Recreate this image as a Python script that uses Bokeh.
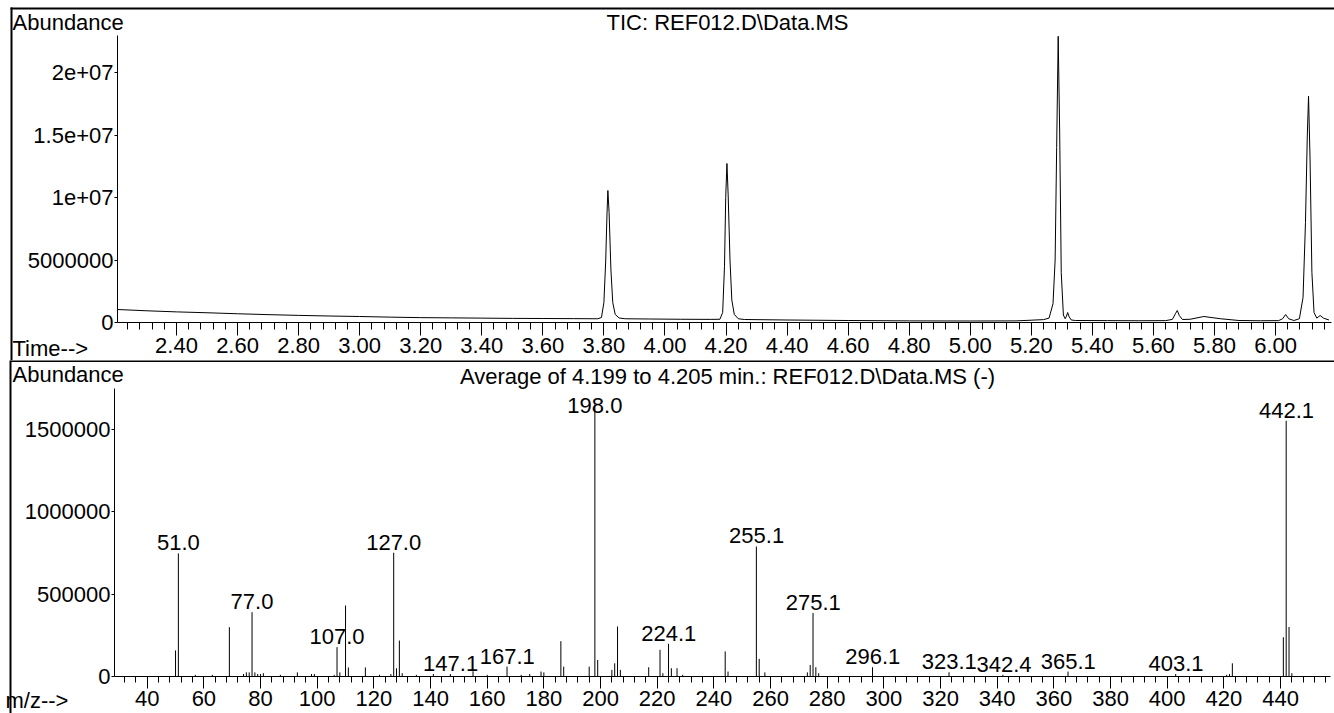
from bokeh.plotting import figure
from bokeh.models import (FixedTicker, Label, LabelSet, ColumnDataSource,
                          BoxAnnotation, Range1d)
from bokeh.core.properties import value
from bokeh.layouts import column
from bokeh.embed import file_html
from bokeh.resources import INLINE
import numpy as np

FONT = "Liberation Sans"
FS = "22px"

# ---------------- TIC chromatogram (time in min, abundance) ----------------
tic_time = [2.207, 2.30, 2.40, 2.50, 2.60, 2.70, 2.80, 2.90, 3.00, 3.10, 3.20,
            3.30, 3.40, 3.50, 3.60, 3.70, 3.78,
            3.792, 3.800, 3.806, 3.810, 3.813, 3.817, 3.823, 3.829, 3.837, 3.850, 3.870,
            3.95, 4.05, 4.15, 4.180,
            4.189, 4.195, 4.199, 4.203, 4.207, 4.213, 4.219, 4.227, 4.240, 4.26,
            4.40, 4.60, 4.80, 5.00, 5.15, 5.24,
            5.258, 5.271, 5.278, 5.283, 5.288, 5.293, 5.298, 5.305, 5.311, 5.315,
            5.319, 5.324, 5.331, 5.345,
            5.45, 5.55, 5.64, 5.662, 5.672, 5.678, 5.685, 5.695, 5.72, 5.765,
            5.82, 5.88, 5.95, 6.01, 6.023, 6.033, 6.043, 6.06,
            6.078, 6.090, 6.098, 6.104, 6.108, 6.113, 6.119, 6.126, 6.135,
            6.146, 6.157, 6.175]
tic_abund = [1.04e6, 9.4e5, 8.5e5, 7.8e5, 7.0e5, 6.3e5, 5.7e5, 5.2e5, 4.8e5, 4.3e5, 3.9e5,
             3.7e5, 3.5e5, 3.3e5, 3.2e5, 3.1e5, 3.0e5,
             4.0e5, 1.6e6, 5.0e6, 8.6e6, 1.056e7, 8.8e6, 4.2e6, 1.6e6, 6.5e5, 3.6e5, 3.0e5,
             2.8e5, 2.6e5, 2.5e5, 2.6e5,
             8.0e5, 4.5e6, 1.0e7, 1.272e7, 1.02e7, 5.0e6, 1.8e6, 6.5e5, 3.0e5, 2.4e5,
             2.0e5, 1.6e5, 1.3e5, 1.2e5, 1.3e5, 2.3e5,
             3.5e5, 1.5e6, 5.0e6, 1.4e7, 2.29e7, 1.5e7, 4.0e6, 6.0e5, 3.0e5, 5.0e5,
             8.0e5, 4.5e5, 2.0e5, 1.6e5,
             1.5e5, 1.4e5, 1.5e5, 2.5e5, 7.0e5, 9.6e5, 5.5e5, 2.4e5, 2.6e5, 4.8e5,
             3.0e5, 1.6e5, 1.4e5, 1.5e5, 3.0e5, 6.4e5, 3.0e5, 1.6e5,
             3.0e5, 2.0e6, 8.0e6, 1.5e7, 1.81e7, 1.3e7, 4.0e6, 8.0e5, 3.5e5,
             5.6e5, 3.5e5, 2.0e5]

tic_xticks = [2.40, 2.60, 2.80, 3.00, 3.20, 3.40, 3.60, 3.80, 4.00, 4.20,
              4.40, 4.60, 4.80, 5.00, 5.20, 5.40, 5.60, 5.80, 6.00]
tic_yticks = [0, 5000000, 10000000, 15000000, 20000000]
tic_ylabels = ["0", "5000000", "1e+07", "1.5e+07", "2e+07"]

# ---------------- Mass spectrum (m/z, abundance) ----------------
ms_mz = [50, 51, 57, 63, 69, 74, 75, 76, 77, 78, 79, 80, 81, 87, 93, 98, 99,
         106, 107, 108, 110, 111, 117, 122, 126, 127, 128, 129, 130, 135, 141,
         147, 155, 160, 167, 172, 175, 179, 180, 186, 187, 196, 198, 199, 204,
         205, 206, 207, 217, 221, 222, 224, 225, 227, 229, 244, 245, 255, 256,
         258, 273, 274, 275, 276, 277, 296, 323, 342, 365, 403, 421, 422, 423,
         441, 442, 443, 444]
ms_ab = [1.58e5, 7.46e5, 1.0e4, 1.0e4, 2.99e5, 1.5e4, 2.5e4, 2.5e4, 3.9e5, 2.5e4,
         1.5e4, 1.5e4, 2.0e4, 1.0e4, 2.5e4, 1.5e4, 1.5e4,
         1.0e4, 1.78e5, 2.5e4, 4.3e5, 5.5e4, 5.5e4, 1.0e4, 1.5e4, 7.5e5, 5.0e4,
         2.18e5, 2.0e4, 1.0e4, 1.5e4,
         1.5e4, 3.2e4, 1.0e4, 6.0e4, 1.0e4, 1.5e4, 3.0e4, 2.5e4, 2.14e5, 6.0e4,
         6.0e4, 1.65e6, 1.0e5, 4.0e4,
         8.0e4, 3.03e5, 4.0e4, 5.6e4, 1.62e5, 2.0e4, 1.98e5, 5.0e4, 5.0e4, 1.0e4,
         1.52e5, 3.0e4, 7.88e5, 1.07e5,
         2.5e4, 2.5e4, 7.0e4, 3.85e5, 5.6e4, 2.0e4, 5.6e4, 2.6e4, 1.0e4, 3.0e4,
         1.5e4, 1.0e4, 1.5e4, 8.0e4,
         2.38e5, 1.55e6, 3.0e5, 2.0e4]

ms_labels = ["51.0", "77.0", "107.0", "127.0", "147.1", "167.1", "198.0", "224.1",
             "255.1", "275.1", "296.1", "323.1", "342.4", "365.1", "403.1", "442.1"]
ms_label_mz = [51.0, 77.0, 107.0, 127.0, 147.1, 167.1, 198.0, 224.1,
               255.1, 275.1, 296.1, 323.1, 342.4, 365.1, 403.1, 442.1]
ms_label_ab = [7.46e5, 3.9e5, 1.78e5, 7.5e5, 1.5e4, 6.0e4, 1.65e6, 1.98e5,
               7.88e5, 3.85e5, 5.6e4, 2.6e4, 1.0e4, 3.0e4, 1.5e4, 1.55e6]

ms_xticks = [40, 60, 80, 100, 120, 140, 160, 180, 200, 220, 240, 260, 280, 300,
             320, 340, 360, 380, 400, 420, 440]
ms_yticks = [0, 500000, 1000000, 1500000]
ms_ylabels = ["0", "500000", "1000000", "1500000"]

W = 1334
TOP_H = 360   # page y 0 .. 360
BOT_H = 353   # page y 360 .. 713

# ----- page-pixel geometry of each panel (layout only) -----
T_X0, T_PXMIN = 2.2068, 305.3
T_Y0PIX, T_UPP = 322, 80000.0
T_YTOP = 2.296e7
def tx(px):
    return T_X0 + (px - 117) / T_PXMIN
def ty(py):
    return (T_Y0PIX - py) * T_UPP

B_PX40, B_PXU = 146.7, 2.8333
B_Y0PIX, B_UPP = 676, 6061.0
B_YTOP = 1.745e6
def bx(px):
    return 40 + (px - B_PX40) / B_PXU
def by(py):
    return (B_Y0PIX - py) * B_UPP


def style_axes(p, xt_out, xm_out):
    for ax in (p.xaxis[0], p.yaxis[0]):
        ax.axis_line_color = "black"
        ax.axis_line_width = 1
        ax.major_tick_line_color = "black"
        ax.minor_tick_line_color = "black"
        ax.major_tick_in = 0
        ax.minor_tick_in = 0
        ax.major_label_text_font = FONT
        ax.major_label_text_font_size = FS
        ax.major_label_text_color = "black"
    p.xaxis[0].major_tick_out = xt_out
    p.xaxis[0].minor_tick_out = xm_out
    p.xaxis[0].major_label_standoff = 2
    p.yaxis[0].major_tick_out = 3
    p.yaxis[0].minor_tick_line_color = None
    p.yaxis[0].major_label_standoff = 1
    p.xgrid.visible = False
    p.ygrid.visible = False
    p.outline_line_color = None
    p.background_fill_color = "white"
    p.border_fill_color = "white"


def txt(p, x, y, text, align="left"):
    p.add_layout(Label(x=x, y=y, text=text, text_font=FONT, text_font_size=FS,
                       text_color="black", text_align=align, text_baseline="middle"))


def bar(p, l, r, t, b):
    p.add_layout(BoxAnnotation(left=l, right=r, top=t, bottom=b,
                               fill_color="black", fill_alpha=1.0,
                               line_color=None, level="overlay"))


# ---------------- top figure (frame covers whole canvas) ----------------
top = figure(width=W, height=TOP_H, output_backend="svg", toolbar_location=None,
             x_range=Range1d(tx(0), tx(W)), y_range=Range1d(ty(TOP_H), ty(0)),
             min_border=0)
top.line(tic_time, tic_abund, line_color="black", line_width=1)
style_axes(top, 13, 7)
top.xaxis[0].fixed_location = 0
top.xaxis[0].bounds = (T_X0, tx(1331))
top.yaxis[0].fixed_location = T_X0
top.yaxis[0].bounds = (0, T_YTOP)
top.xaxis[0].ticker = FixedTicker(ticks=tic_xticks,
                                  minor_ticks=list(np.round(np.arange(2.24, 6.19, 0.04), 2)))
top.xaxis[0].major_label_overrides = {t: f"{t:.2f}" for t in tic_xticks}
top.yaxis[0].ticker = FixedTicker(ticks=tic_yticks)
top.yaxis[0].major_label_overrides = dict(zip(tic_yticks, tic_ylabels))

txt(top, tx(12), ty(22), "Abundance")
txt(top, tx(727), ty(22), "TIC: REF012.D\\Data.MS", align="center")
txt(top, tx(12), ty(348), "Time-->")
bar(top, tx(10), tx(1340), ty(7), ty(9))
bar(top, tx(10), tx(12), ty(7), ty(362))

# ---------------- bottom figure ----------------
bot = figure(width=W, height=BOT_H, output_backend="svg", toolbar_location=None,
             x_range=Range1d(bx(0), bx(W)), y_range=Range1d(by(360 + BOT_H), by(360)),
             min_border=0)
src = ColumnDataSource(dict(mz=ms_mz, ab=ms_ab, zero=[0] * len(ms_mz)))
bot.segment(x0="mz", y0="zero", x1="mz", y1="ab", source=src,
            line_color="black", line_width=1)
style_axes(bot, 12, 6)
bot.xaxis[0].fixed_location = 0
bot.xaxis[0].bounds = (bx(114), bx(1330))
bot.yaxis[0].fixed_location = bx(114)
bot.yaxis[0].bounds = (0, B_YTOP)
bot.xaxis[0].ticker = FixedTicker(ticks=ms_xticks, minor_ticks=list(range(32, 457, 4)))
bot.yaxis[0].ticker = FixedTicker(ticks=ms_yticks)
bot.yaxis[0].major_label_overrides = dict(zip(ms_yticks, ms_ylabels))

lab_y = [min(v, B_YTOP * 0.906) for v in ms_label_ab]
lsrc = ColumnDataSource(dict(x=ms_label_mz, y=lab_y, t=ms_labels))
bot.add_layout(LabelSet(x="x", y="y", text="t", source=lsrc, y_offset=3,
                        text_align="center", text_baseline="bottom",
                        text_font=value(FONT), text_font_size=value(FS),
                        text_color="black"))

txt(bot, bx(12), by(374), "Abundance")
txt(bot, bx(727), by(376), "Average of 4.199 to 4.205 min.: REF012.D\\Data.MS (-)",
    align="center")
txt(bot, bx(5), by(700), "m/z-->")
bar(bot, bx(10), bx(1340), by(359), by(361.5))
bar(bot, bx(9), bx(11), by(358), by(720))

layout = column(top, bot, spacing=0)
open("out.html", "w").write(file_html(layout, INLINE))
